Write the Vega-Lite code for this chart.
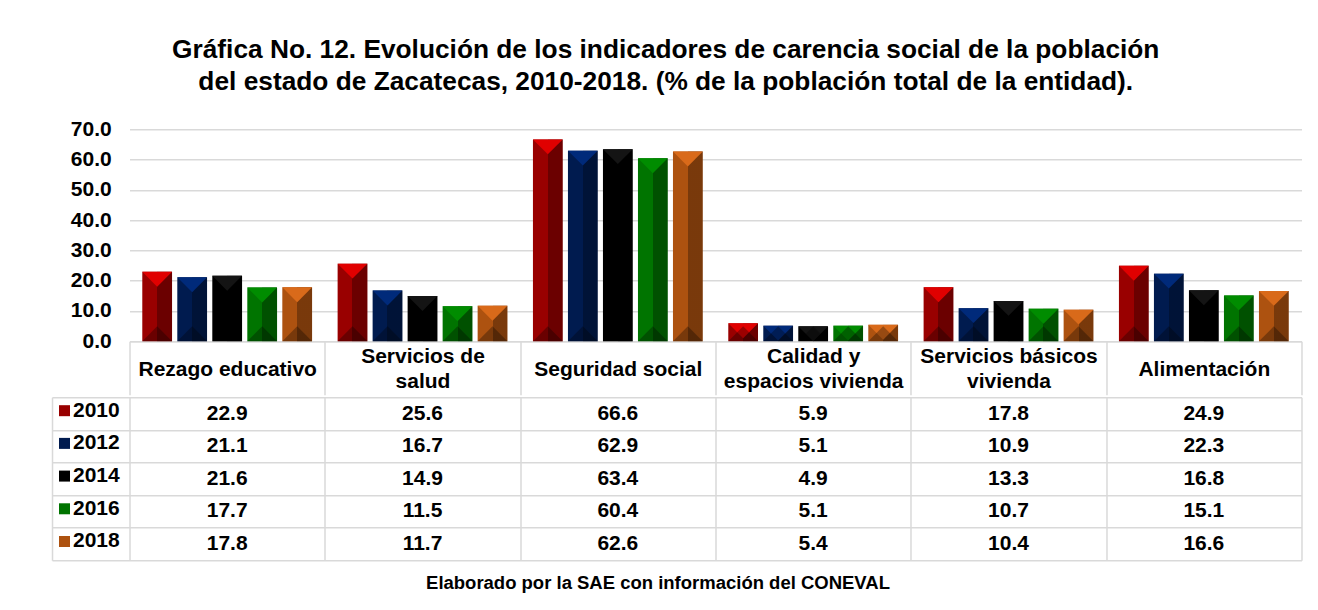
{
  "$schema": "https://vega.github.io/schema/vega-lite/v6.json",
  "padding": {"left": 50.5, "top": 36.2, "right": 10, "bottom": 5},
  "background": "white",
  "title": {
    "text": ["Gráfica No. 12. Evolución de los indicadores de carencia social de la población", "del estado de Zacatecas, 2010-2018. (% de la población total de la entidad)."],
    "font": "Liberation Sans",
    "fontSize": 26.3,
    "fontWeight": "bold",
    "lineHeight": 32,
    "anchor": "middle",
    "dx": -11,
    "offset": 23.3,
    "color": "black"
  },
  "datasets": {
    "d": [
      {"cat": "Rezago educativo", "year": "2010", "value": 22.9},
      {"cat": "Rezago educativo", "year": "2012", "value": 21.1},
      {"cat": "Rezago educativo", "year": "2014", "value": 21.6},
      {"cat": "Rezago educativo", "year": "2016", "value": 17.7},
      {"cat": "Rezago educativo", "year": "2018", "value": 17.8},
      {"cat": "Servicios de salud", "year": "2010", "value": 25.6},
      {"cat": "Servicios de salud", "year": "2012", "value": 16.7},
      {"cat": "Servicios de salud", "year": "2014", "value": 14.9},
      {"cat": "Servicios de salud", "year": "2016", "value": 11.5},
      {"cat": "Servicios de salud", "year": "2018", "value": 11.7},
      {"cat": "Seguridad social", "year": "2010", "value": 66.6},
      {"cat": "Seguridad social", "year": "2012", "value": 62.9},
      {"cat": "Seguridad social", "year": "2014", "value": 63.4},
      {"cat": "Seguridad social", "year": "2016", "value": 60.4},
      {"cat": "Seguridad social", "year": "2018", "value": 62.6},
      {"cat": "Calidad y espacios vivienda", "year": "2010", "value": 5.9},
      {"cat": "Calidad y espacios vivienda", "year": "2012", "value": 5.1},
      {"cat": "Calidad y espacios vivienda", "year": "2014", "value": 4.9},
      {"cat": "Calidad y espacios vivienda", "year": "2016", "value": 5.1},
      {"cat": "Calidad y espacios vivienda", "year": "2018", "value": 5.4},
      {"cat": "Servicios básicos vivienda", "year": "2010", "value": 17.8},
      {"cat": "Servicios básicos vivienda", "year": "2012", "value": 10.9},
      {"cat": "Servicios básicos vivienda", "year": "2014", "value": 13.3},
      {"cat": "Servicios básicos vivienda", "year": "2016", "value": 10.7},
      {"cat": "Servicios básicos vivienda", "year": "2018", "value": 10.4},
      {"cat": "Alimentación", "year": "2010", "value": 24.9},
      {"cat": "Alimentación", "year": "2012", "value": 22.3},
      {"cat": "Alimentación", "year": "2014", "value": 16.8},
      {"cat": "Alimentación", "year": "2016", "value": 15.1},
      {"cat": "Alimentación", "year": "2018", "value": 16.6}
    ]
  },
  "spacing": 0,
  "vconcat": [
    {
      "width": 1172,
      "height": 212,
      "data": {"name": "d"},
      "encoding": {
        "x": {
          "field": "cat", "type": "nominal",
          "sort": ["Rezago educativo", "Servicios de salud", "Seguridad social", "Calidad y espacios vivienda", "Servicios básicos vivienda", "Alimentación"],
          "scale": {"paddingInner": 0, "paddingOuter": 0},
          "axis": {
            "title": null,
            "labelAngle": 0,
            "domain": true, "domainColor": "#d9d9d9", "domainWidth": 1.5,
            "ticks": true, "tickBand": "extent", "tickSize": 53.5, "tickColor": "#d9d9d9", "tickWidth": 1.5,
            "labelFont": "Liberation Sans", "labelFontSize": 21, "labelFontWeight": "bold", "labelColor": "black",
            "labelBaseline": "middle", "labelLineHeight": 25, "labelLimit": 400,
            "labelPadding": {"condition": {"test": "indexof(['Servicios de salud', 'Calidad y espacios vivienda', 'Servicios básicos vivienda'], datum.value) >= 0", "value": -38}, "value": -25.5},
            "labelExpr": "datum.value == 'Servicios de salud' ? ['Servicios de', 'salud'] : datum.value == 'Calidad y espacios vivienda' ? ['Calidad y', 'espacios vivienda'] : datum.value == 'Servicios básicos vivienda' ? ['Servicios básicos', 'vivienda'] : datum.value"
          }
        },
        "xOffset": {
          "field": "year", "type": "nominal",
          "scale": {"paddingInner": 0.15, "paddingOuter": 0.365}
        },
        "y": {
          "field": "value", "type": "quantitative",
          "scale": {"domain": [0, 70], "nice": false},
          "axis": {
            "title": null, "values": [0, 10, 20, 30, 40, 50, 60, 70], "format": ".1f",
            "domain": false, "ticks": false, "labelPadding": 18.3,
            "labelFont": "Liberation Sans", "labelFontSize": 21, "labelFontWeight": "bold", "labelColor": "black",
            "grid": true, "gridColor": "#d9d9d9", "gridWidth": 1.5
          }
        }
      },
      "layer": [
        {
          "mark": {"type": "bar"},
          "encoding": {
            "color": {
              "field": "year", "type": "nominal",
              "scale": {"domain": ["2010", "2012", "2014", "2016", "2018"], "range": ["#990000", "#001b4f", "#000000", "#007400", "#ad5210"]},
              "legend": {
                "orient": "none", "legendX": -75.5, "legendY": 271, "title": null, "direction": "vertical",
                "symbolType": "square", "symbolSize": 121, "symbolStrokeWidth": 0,
                "labelFont": "Liberation Sans", "labelFontSize": 21, "labelFontWeight": "bold", "labelColor": "black",
                "rowPadding": 10.7, "labelOffset": -2, "padding": 0
              }
            }
          }
        },
        {
          "mark": {
            "type": "bar",
            "color": {"gradient": "linear", "x1": 0, "y1": 0, "x2": 1, "y2": 0,
              "stops": [
                {"offset": 0, "color": "rgba(0,0,0,0)"},
                {"offset": 0.5, "color": "rgba(0,0,0,0)"},
                {"offset": 0.5, "color": "rgba(0,0,0,0.3)"},
                {"offset": 1, "color": "rgba(0,0,0,0.3)"}
              ]}
          }
        },
        {
          "mark": {"type": "point", "shape": "M-1,0L1,0L0,1Z", "size": 885, "filled": true, "opacity": 1, "strokeWidth": 0},
          "encoding": {
            "fill": {
              "field": "year", "type": "nominal",
              "scale": {"domain": ["2010", "2012", "2014", "2016", "2018"], "range": ["#e00000", "#002a7a", "#141414", "#008c00", "#d96a1a"]},
              "legend": null
            }
          }
        },
        {
          "mark": {"type": "point", "shape": "M-1,0L1,0L0,-1Z", "size": 885, "filled": true, "color": "black", "opacity": 0.3, "strokeWidth": 0},
          "encoding": {"y": {"datum": 0}}
        }
      ]
    },
    {
      "width": 1172,
      "height": 163.1,
      "data": {"name": "d"},
      "mark": {"type": "text", "font": "Liberation Sans", "fontSize": 21, "fontWeight": "bold", "color": "black", "baseline": "middle", "align": "center"},
      "encoding": {
        "x": {
          "field": "cat", "type": "nominal",
          "sort": ["Rezago educativo", "Servicios de salud", "Seguridad social", "Calidad y espacios vivienda", "Servicios básicos vivienda", "Alimentación"],
          "scale": {"paddingInner": 0, "paddingOuter": 0},
          "axis": {
            "orient": "bottom", "labels": false, "ticks": false, "domain": false,
            "grid": true, "tickBand": "extent", "gridColor": "#d9d9d9", "gridWidth": 1.5,
            "title": "Elaborado por la SAE con información del CONEVAL",
            "titleFont": "Liberation Sans", "titleFontSize": 18.5, "titleFontWeight": "bold", "titleColor": "black",
            "titlePadding": 13, "titleX": 528, "titleAlign": "center"
          }
        },
        "y": {
          "field": "year", "type": "nominal",
          "scale": {"paddingInner": 0, "paddingOuter": 0},
          "axis": {
            "title": null, "labels": false, "offset": 77.5,
            "domain": true, "domainColor": "#d9d9d9", "domainWidth": 1.5,
            "ticks": true, "tickSize": -77.5, "tickBand": "extent", "tickColor": "#d9d9d9", "tickWidth": 1.5,
            "grid": true, "gridColor": "#d9d9d9", "gridWidth": 1.5
          }
        },
        "text": {"field": "value", "type": "quantitative", "format": ".1f"}
      }
    }
  ],
  "config": {"view": {"stroke": null}}
}
